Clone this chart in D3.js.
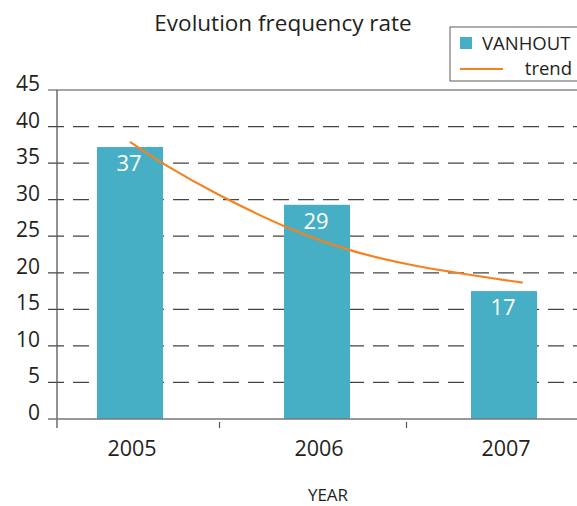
<!DOCTYPE html>
<html>
<head>
<meta charset="utf-8">
<script src="https://cdn.jsdelivr.net/npm/d3@7"></script>
<style>
  body { margin: 0; background: #fff; }
  svg text { font-family: "Open Sans", "Noto Sans", sans-serif; fill: #231f20; }
</style>
</head>
<body>
<div class="chartDiv"></div>
<script>
// data
var years      = ["2005", "2006", "2007"];
var vanhout    = [37.2, 29.3, 17.5];
var barLabels  = ["37", "29", "17"];
// trend curve samples (fractional year, value)
var trendYears = [2005.0, 2005.18, 2005.48, 2005.86, 2006.19, 2006.5, 2007.1];
var trendVals  = [37.9, 34.9, 30.6, 26.0, 23.0, 21.1, 18.65];
var yTicks     = [0, 5, 10, 15, 20, 25, 30, 35, 40, 45];

(function(){
  var width  = 577,
      height = 506,
      plot   = {left: 57, right: 577, top: 90, bottom: 419};

  var svg = d3.select(".chartDiv").append("svg")
      .attr("width", width)
      .attr("height", height);

  var y = d3.scaleLinear().domain([0, 45]).range([plot.bottom, plot.top]);
  var x = d3.scaleBand().domain(years)
      .range([36.5, 597.5])
      .paddingInner(0.647)
      .paddingOuter(0.3235);
  var center = function(d){ return x(d) + x.bandwidth() / 2; };
  // continuous year scale for the trend, pinned to the bar centres
  var xYear = d3.scaleLinear()
      .domain([+years[0], +years[years.length - 1]])
      .range([center(years[0]), center(years[years.length - 1])]);

  // gridlines
  svg.selectAll("line.grid").data(yTicks.filter(function(d){ return d > 0; }))
    .enter().append("line")
      .attr("class", "grid")
      .attr("x1", 48).attr("x2", plot.right)
      .attr("y1", function(d){ return y(d); })
      .attr("y2", function(d){ return y(d); })
      .attr("stroke", function(d){ return d === 45 ? "#8a8a8a" : "#444"; })
      .attr("stroke-width", function(d){ return d === 45 ? 1.5 : 1.2; })
      .attr("stroke-dasharray", function(d){ return d === 45 ? null : "16,9"; });

  // y tick labels
  svg.selectAll("text.ylab").data(yTicks).enter().append("text")
      .attr("class", "ylab")
      .attr("x", 40)
      .attr("y", function(d){ return y(d) + 1; })
      .attr("text-anchor", "end")
      .style("font-size", "21px")
      .text(function(d){ return d; });

  // bars
  svg.selectAll("rect.bar").data(vanhout).enter().append("rect")
      .attr("class", "bar")
      .attr("x", function(d, i){ return x(years[i]); })
      .attr("width", x.bandwidth())
      .attr("y", function(d){ return y(d); })
      .attr("height", function(d){ return plot.bottom - y(d); })
      .attr("fill", "#47afc5");

  svg.selectAll("text.blab").data(vanhout).enter().append("text")
      .attr("class", "blab")
      .attr("x", function(d, i){ return center(years[i]) - 1; })
      .attr("y", function(d){ return y(d) + 24; })
      .attr("text-anchor", "middle")
      .style("font-size", "22px")
      .style("fill", "#fff")
      .text(function(d, i){ return barLabels[i]; });

  // trend curve
  var line = d3.line()
      .x(function(d, i){ return xYear(trendYears[i]); })
      .y(function(d){ return y(d); })
      .curve(d3.curveCatmullRom);
  svg.append("path").datum(trendVals)
      .attr("d", line)
      .attr("fill", "none")
      .attr("stroke", "#f58220")
      .attr("stroke-width", 2.2);

  // axes
  svg.append("line")
      .attr("x1", plot.left).attr("x2", plot.left)
      .attr("y1", plot.top).attr("y2", plot.bottom + 9)
      .attr("stroke", "#555").attr("stroke-width", 1.3);
  svg.append("line")
      .attr("x1", 48).attr("x2", plot.right)
      .attr("y1", plot.bottom).attr("y2", plot.bottom)
      .attr("stroke", "#777").attr("stroke-width", 1.5);
  svg.selectAll("line.xtick").data(years.slice(1)).enter().append("line")
      .attr("class", "xtick")
      .attr("x1", function(d){ return x(d) - x.step() * 0.647 / 2 - 4; })
      .attr("x2", function(d){ return x(d) - x.step() * 0.647 / 2 - 4; })
      .attr("y1", plot.bottom + 3).attr("y2", plot.bottom + 9)
      .attr("stroke", "#555").attr("stroke-width", 1.2);

  svg.selectAll("text.xlab").data(years).enter().append("text")
      .attr("class", "xlab")
      .attr("x", function(d){ return center(d) + 2; })
      .attr("y", 456)
      .attr("text-anchor", "middle")
      .style("font-size", "21.5px")
      .text(function(d){ return d; });

  svg.append("text")
      .attr("x", 328).attr("y", 501)
      .attr("text-anchor", "middle")
      .style("font-size", "17px")
      .text("YEAR");

  svg.append("text")
      .attr("x", 283).attr("y", 31)
      .attr("text-anchor", "middle")
      .style("font-size", "22.5px")
      .text("Evolution frequency rate");

  // legend
  var lg = svg.append("g").attr("transform", "translate(450,27)");
  lg.append("rect")
      .attr("x", 0).attr("y", 0).attr("width", 130).attr("height", 54)
      .attr("fill", "#fff").attr("stroke", "#777").attr("stroke-width", 1.2);
  lg.append("rect")
      .attr("x", 10).attr("y", 10).attr("width", 12).attr("height", 12)
      .attr("fill", "#47afc5");
  lg.append("text")
      .attr("x", 32).attr("y", 23)
      .style("font-size", "18.5px")
      .text("VANHOUT");
  lg.append("line")
      .attr("x1", 10).attr("x2", 53).attr("y1", 42).attr("y2", 42)
      .attr("stroke", "#f58220").attr("stroke-width", 2);
  lg.append("text")
      .attr("x", 122).attr("y", 48)
      .attr("text-anchor", "end")
      .style("font-size", "18.5px")
      .text("trend");
})();
</script>
</body>
</html>
